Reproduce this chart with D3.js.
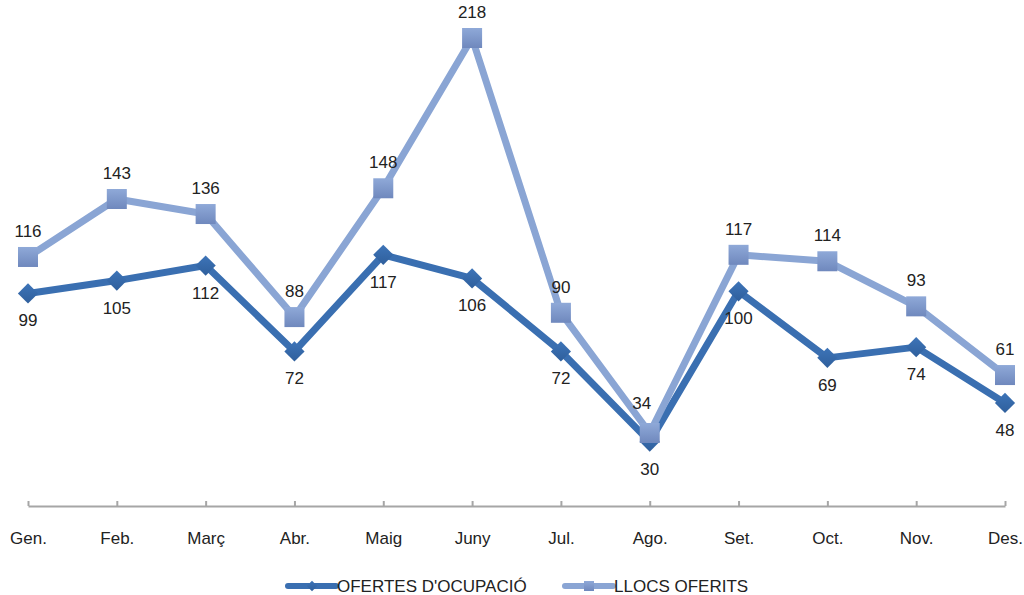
<!DOCTYPE html>
<meta charset="utf-8">
<style>
body { margin: 0; background: #fff; font-family: "Liberation Sans", Arial, sans-serif; }
.axis .domain, .axis line { stroke: #a6a6a6; stroke-width: 2; }
.axis text { font-size: 17px; fill: #222; font-family: "Liberation Sans", Arial, sans-serif; }
</style>
<body>
<svg width="1024" height="595"></svg>
<script src="https://cdn.jsdelivr.net/npm/d3@7/dist/d3.min.js"></script>
<script>
var months = ["Gen.", "Feb.", "Març", "Abr.", "Maig", "Juny", "Jul.", "Ago.", "Set.", "Oct.", "Nov.", "Des."];
var ofertes = [99, 105, 112, 72, 117, 106, 72, 30, 100, 69, 74, 48];
var llocs = [116, 143, 136, 88, 148, 218, 90, 34, 117, 114, 93, 61];

var darkColor = "#3a6fb1",
    lightColor = "#8aa5d4";

var svg = d3.select("svg");

var x = d3.scalePoint()
    .domain(months)
    .range([28, 1005]);

var y = d3.scaleLinear()
    .domain([0, 218])
    .range([506, 38]);

// gradients for markers
var defs = svg.append("defs");
var gl = defs.append("linearGradient").attr("id", "gLight").attr("x1", 0).attr("y1", 0).attr("x2", 0).attr("y2", 1);
gl.append("stop").attr("offset", "0%").attr("stop-color", "#8fa9d8");
gl.append("stop").attr("offset", "100%").attr("stop-color", "#6f88bd");
var gd = defs.append("linearGradient").attr("id", "gDark").attr("x1", 0).attr("y1", 0).attr("x2", 0).attr("y2", 1);
gd.append("stop").attr("offset", "0%").attr("stop-color", "#3d74b8");
gd.append("stop").attr("offset", "100%").attr("stop-color", "#2f5f9c");

// x axis
var xAxis = svg.append("g")
    .attr("class", "axis")
    .attr("transform", "translate(0,506)")
    .call(d3.axisBottom(x).tickSizeInner(-5).tickSizeOuter(0).tickPadding(26));
xAxis.selectAll("text").attr("dy", "0.71em");

var line = d3.line()
    .x(function(d, i) { return x(months[i]); })
    .y(function(d) { return y(d); });

// dark line: ofertes
svg.append("path")
    .datum(ofertes)
    .attr("fill", "none")
    .attr("stroke", darkColor)
    .attr("stroke-width", 7)
    .attr("stroke-linejoin", "round")
    .attr("d", line);

svg.append("g").selectAll("path")
    .data(ofertes)
    .enter().append("path")
    .attr("d", d3.symbol().type(d3.symbolDiamond2).size(260))
    .attr("transform", function(d, i) { return "translate(" + x(months[i]) + "," + y(d) + ")"; })
    .attr("fill", "url(#gDark)");

// light line: llocs
svg.append("path")
    .datum(llocs)
    .attr("fill", "none")
    .attr("stroke", lightColor)
    .attr("stroke-width", 7)
    .attr("stroke-linejoin", "round")
    .attr("d", line);

svg.append("g").selectAll("rect")
    .data(llocs)
    .enter().append("rect")
    .attr("x", function(d, i) { return x(months[i]) - 10; })
    .attr("y", function(d) { return y(d) - 10; })
    .attr("width", 20)
    .attr("height", 20)
    .attr("fill", "url(#gLight)");

// labels
svg.append("g").selectAll("text")
    .data(ofertes)
    .enter().append("text")
    .attr("x", function(d, i) { return x(months[i]); })
    .attr("y", function(d) { return y(d) + 27; })
    .attr("dy", "0.35em")
    .attr("text-anchor", "middle")
    .attr("font-size", 17)
    .attr("fill", "#222")
    .text(function(d) { return d; });

svg.append("g").selectAll("text")
    .data(llocs)
    .enter().append("text")
    .attr("x", function(d, i) { return x(months[i]) - (i == 7 ? 8 : 0); })
    .attr("y", function(d, i) { return y(d) - (i == 7 ? 30 : 26); })
    .attr("dy", "0.35em")
    .attr("text-anchor", "middle")
    .attr("font-size", 17)
    .attr("fill", "#222")
    .text(function(d) { return d; });

// legend
var legend = svg.append("g").attr("font-size", 17).attr("fill", "#222");
var items = [
  {name: "OFERTES D'OCUPACIÓ", color: darkColor, x: 288, shape: "diamond"},
  {name: "LLOCS OFERITS", color: lightColor, x: 565, shape: "square"}
];
items.forEach(function(it) {
  legend.append("line")
      .attr("x1", it.x).attr("x2", it.x + 48)
      .attr("y1", 586).attr("y2", 586)
      .attr("stroke", it.color)
      .attr("stroke-width", 6)
      .attr("stroke-linecap", "round");
  if (it.shape == "diamond") {
    legend.append("path")
        .attr("d", d3.symbol().type(d3.symbolDiamond2).size(70))
        .attr("transform", "translate(" + (it.x + 24) + ",586)")
        .attr("fill", "url(#gDark)");
  } else {
    legend.append("rect")
        .attr("x", it.x + 19).attr("y", 581)
        .attr("width", 10).attr("height", 10)
        .attr("fill", "url(#gLight)");
  }
  legend.append("text")
      .attr("x", it.x + 49)
      .attr("y", 586)
      .attr("dy", "0.35em")
      .text(it.name);
});
</script>
</body>
